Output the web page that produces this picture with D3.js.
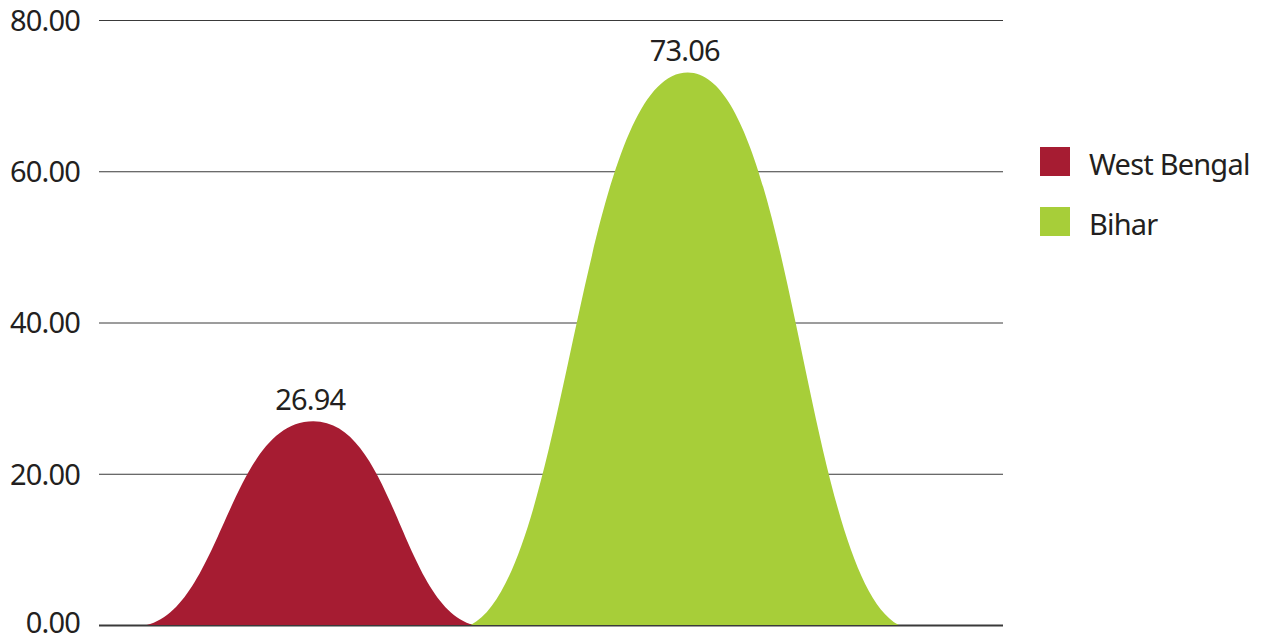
<!DOCTYPE html>
<html>
<head>
<meta charset="utf-8">
<script src="https://cdn.jsdelivr.net/npm/d3@7"></script>
<style>
  body { margin: 0; background: #ffffff; }
  text { font-family: "Noto Sans", "Open Sans", sans-serif; fill: #231f20; }
</style>
</head>
<body>
<svg id="chart" width="1266" height="642"></svg>
<script>
// Data
const states = ["West Bengal", "Bihar"];
const shares = [26.94, 73.06];
const stateColors = ["#a61c32", "#a7ce39"];
const yTickValues = [0, 20, 40, 60, 80];

const W = 1266, H = 642;
const plot = { left: 99, right: 1003, top: 20, bottom: 625 };

const svg = d3.select("#chart");

const y = d3.scaleLinear().domain([0, 80]).range([plot.bottom, plot.top]);
const x = d3.scaleBand().domain(states).range([123, 872]).paddingInner(0).paddingOuter(0);
// base half-width of each peak grows with its value
const halfWidth = d3.scaleLinear().domain([0, 80]).range([134, 221.6]);
const color = d3.scaleOrdinal().domain(states).range(stateColors);

// Gridlines + tick labels
const yAxis = d3.axisLeft(y)
  .tickValues(yTickValues)
  .tickFormat(d3.format(".2f"))
  .tickSize(-(plot.right - plot.left))
  .tickPadding(19);

const gAxis = svg.append("g")
  .attr("transform", `translate(${plot.left},0)`)
  .call(yAxis);
gAxis.select(".domain").remove();
gAxis.selectAll(".tick line")
  .attr("stroke", "#3a3a3a")
  .attr("stroke-width", d => d === 0 ? 2 : 1);
gAxis.selectAll(".tick text")
  .attr("font-size", 29)
  .attr("letter-spacing", "-0.8px")
  .attr("fill", "#231f20")
  .attr("dy", d => d === 0 ? "0.27em" : "0.36em")
  .style("font-family", "\"Noto Sans\", sans-serif");

// Peak shape: two cubic Béziers meeting at a rounded summit
const ctrl = { a: 0.45, c: 0.09, b: 0.5 };
const skew = 3;
function peakPath(state, value) {
  const cx = x(state) + x.bandwidth() / 2;
  const hw = halfWidth(value);
  const base = y(0), top = y(value), h = base - top;
  const L = cx - hw, R = cx + hw, P = cx + skew;
  const wl = P - L, wr = R - P;
  const p = d3.path();
  p.moveTo(L, base);
  p.bezierCurveTo(L + ctrl.a * wl, base - ctrl.c * h, L + ctrl.b * wl, top, P, top);
  p.bezierCurveTo(R - ctrl.b * wr, top, R - ctrl.a * wr, base - ctrl.c * h, R, base);
  p.closePath();
  return p.toString();
}

const rows = states.map((s, i) => ({ state: s, value: shares[i] }));

svg.append("g").selectAll("path")
  .data(rows)
  .join("path")
  .attr("d", d => peakPath(d.state, d.value))
  .attr("fill", d => color(d.state));

// Value labels
svg.append("g").selectAll("text")
  .data(rows)
  .join("text")
  .attr("x", d => x(d.state) + x.bandwidth() / 2)
  .attr("y", d => y(d.value) - 11)
  .attr("text-anchor", "middle")
  .attr("font-size", 29)
  .attr("letter-spacing", "-0.8px")
  .text(d => d3.format(".2f")(d.value));

// Legend
const legend = svg.append("g").attr("transform", "translate(1040,147)");
const items = legend.selectAll("g")
  .data(states)
  .join("g")
  .attr("transform", (d, i) => `translate(0,${i * 60})`);
items.append("rect")
  .attr("width", 30)
  .attr("height", 29)
  .attr("fill", d => color(d));
items.append("text")
  .attr("x", 49)
  .attr("y", 28)
  .attr("font-size", 29)
  .attr("letter-spacing", "-0.8px")
  .text(d => d);
</script>
</body>
</html>
